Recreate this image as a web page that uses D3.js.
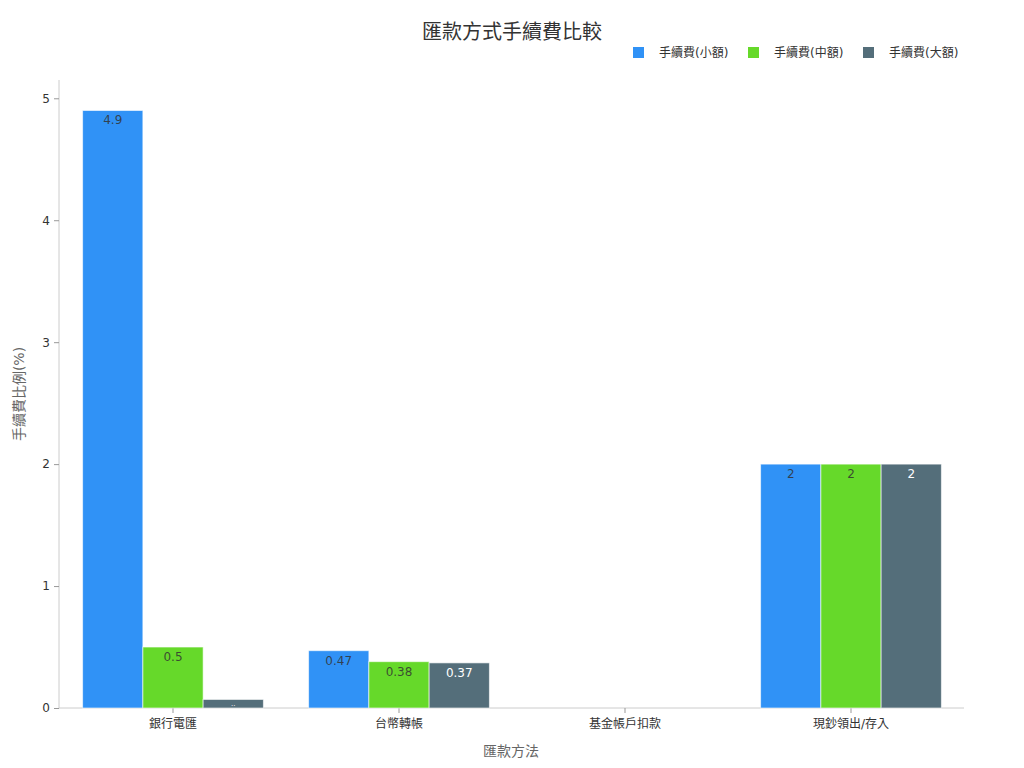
<!DOCTYPE html>
<html>
<head>
<meta charset="utf-8">
<script src="https://cdn.jsdelivr.net/npm/d3@7"></script>
<style>
  body { margin: 0; background: #fff; }
  text { font-family: "DejaVu Sans", "Noto Sans CJK TC", sans-serif; }
</style>
</head>
<body>
<svg id="chart" width="1024" height="768"></svg>
<script>
const categories = ['銀行電匯', '台幣轉帳', '基金帳戶扣款', '現鈔領出/存入'];
const seriesNames = ['手續費(小額)', '手續費(中額)', '手續費(大額)'];
const feeSmall = [4.9, 0.47, 0, 2];
const feeMedium = [0.5, 0.38, 0, 2];
const feeLarge = [0.07, 0.37, 0, 2];
const yTicks = [0, 1, 2, 3, 4, 5];

const colors = ['#3092f6', '#66d92a', '#546e7a'];
const labelColors = ['#333', '#333', '#fff'];
const seriesValues = [feeSmall, feeMedium, feeLarge];

const svg = d3.select('#chart');
const margin = { top: 80, right: 61, bottom: 60, left: 59 };
const width = 1024 - margin.left - margin.right;
const height = 768 - margin.top - margin.bottom;

const g = svg.append('g').attr('transform', `translate(${margin.left},${margin.top})`);

const x0 = d3.scaleBand().domain(categories).range([1, width + 1]).paddingInner(0.2).paddingOuter(0.1);
const x1 = d3.scaleBand().domain(seriesNames).range([0, x0.bandwidth()]);
const y = d3.scaleLinear().domain([0, 5.15]).range([height, 0]);

// title
svg.append('text')
  .attr('x', 512).attr('y', 39)
  .attr('text-anchor', 'middle')
  .attr('font-size', 20)
  .attr('fill', '#333')
  .text('匯款方式手續費比較');

// legend
const legendX = [633, 748, 863];
seriesNames.forEach((name, i) => {
  const lg = svg.append('g').attr('transform', `translate(${legendX[i]},47)`);
  lg.append('rect').attr('width', 11).attr('height', 11).attr('fill', colors[i]);
  lg.append('text').attr('x', 26).attr('y', 10).attr('font-size', 12).attr('fill', '#333').text(name);
});

// axes
const yAxis = g.append('g').call(d3.axisLeft(y).tickValues(yTicks).tickFormat(d3.format('d')).tickSize(5).tickPadding(4));
yAxis.select('.domain').attr('stroke', '#ccc').attr('d', `M0,0V${height}`);
yAxis.selectAll('.tick line').attr('stroke', '#999');
yAxis.selectAll('.tick text').attr('font-size', 12).attr('fill', '#333');

const xAxis = g.append('g').attr('transform', `translate(0,${height})`)
  .call(d3.axisBottom(x0).tickSize(5).tickPadding(6).tickSizeOuter(0));
xAxis.select('.domain').attr('stroke', '#ccc').attr('d', `M0,0H${width + 1}`);
xAxis.selectAll('.tick line').attr('stroke', '#999');
xAxis.selectAll('.tick text').attr('font-size', 12).attr('fill', '#333');

svg.append('text')
  .attr('x', margin.left + width / 2).attr('y', 756)
  .attr('text-anchor', 'middle').attr('font-size', 14).attr('fill', '#666')
  .text('匯款方法');

svg.append('text')
  .attr('transform', `translate(24,${margin.top + 314}) rotate(-90)`)
  .attr('text-anchor', 'middle').attr('font-size', 14).attr('fill', '#666')
  .text('手續費比例(%)');

// bars
const groups = g.selectAll('.cat').data(categories).join('g')
  .attr('transform', d => `translate(${x0(d)},0)`);

groups.each(function (cat, ci) {
  const sel = d3.select(this);
  seriesNames.forEach((name, si) => {
    const v = seriesValues[si][ci];
    if (v <= 0) return;
    const bx = x1(name);
    const by = y(v);
    const bh = height - by;
    sel.append('rect')
      .attr('x', bx).attr('y', by)
      .attr('width', x1.bandwidth()).attr('height', bh)
      .attr('fill', colors[si])
      .attr('stroke', 'rgba(255,255,255,0.6)').attr('stroke-width', 1);
    sel.append('text')
      .attr('x', bx + x1.bandwidth() / 2)
      .attr('y', bh < 16 ? by + 7 : by + 14)
      .attr('text-anchor', 'middle')
      .attr('font-size', bh < 16 ? 7 : 12)
      .attr('fill', labelColors[si])
      .attr('fill-opacity', si === 2 ? 1 : 0.85)
      .text(bh < 16 ? '..' : v);
  });
});
</script>
</body>
</html>
